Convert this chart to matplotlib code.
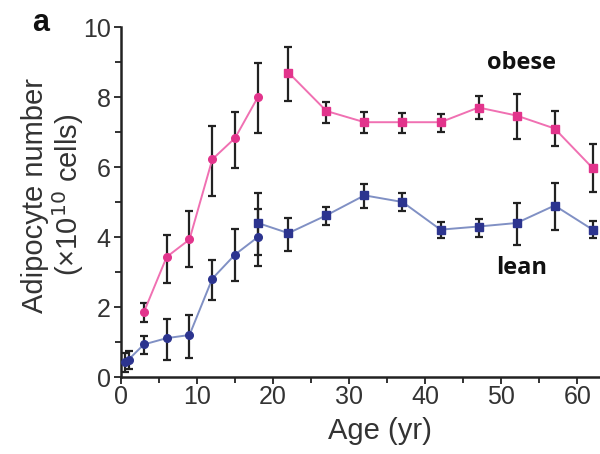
import matplotlib.pyplot as plt

# obese - childhood (circles) and adult (squares) data
obese_child_age = [3, 6, 9, 12, 15, 18]
obese_child_val = [1.85, 3.43, 3.93, 6.22, 6.83, 8.0]
obese_child_lo = [1.57, 2.68, 3.14, 5.18, 5.97, 6.98]
obese_child_hi = [2.12, 4.05, 4.75, 7.16, 7.56, 8.96]

obese_adult_age = [22, 27, 32, 37, 42, 47, 52, 57, 62]
obese_adult_val = [8.7, 7.6, 7.28, 7.28, 7.28, 7.7, 7.47, 7.1, 5.97]
obese_adult_lo = [7.9, 7.27, 6.97, 6.97, 7.0, 7.38, 6.8, 6.6, 5.3]
obese_adult_hi = [9.42, 7.86, 7.57, 7.55, 7.52, 8.02, 8.08, 7.6, 6.66]

# lean
lean_child_age = [0.5, 1, 3, 6, 9, 12, 15, 18]
lean_child_val = [0.42, 0.5, 0.93, 1.11, 1.2, 2.81, 3.5, 4.0]
lean_child_lo = [0.15, 0.22, 0.67, 0.5, 0.55, 2.2, 2.74, 3.17]
lean_child_hi = [0.7, 0.75, 1.18, 1.65, 1.77, 3.33, 4.22, 4.8]

lean_adult_age = [18, 22, 27, 32, 37, 42, 47, 52, 57, 62]
lean_adult_val = [4.4, 4.11, 4.62, 5.19, 5.0, 4.21, 4.3, 4.4, 4.9, 4.21]
lean_adult_lo = [3.5, 3.6, 4.35, 4.83, 4.73, 3.98, 4.0, 3.78, 4.2, 3.98]
lean_adult_hi = [5.26, 4.55, 4.87, 5.52, 5.27, 4.42, 4.52, 4.98, 5.55, 4.45]

pink_m, pink_l = '#e2348c', '#f070b2'
blue_m, blue_l = '#2c348f', '#8090c4'

plt.rcParams['font.family'] = ['Liberation Sans', 'DejaVu Sans']

fig = plt.figure(figsize=(6, 4.54), dpi=100)
ax = fig.add_axes([0.2017, 0.1696, 0.80, 0.7709])


def draw(age, val, lo, hi, lc, mc, marker):
    yerr = [[v - l for v, l in zip(val, lo)], [h - v for v, h in zip(val, hi)]]
    ax.errorbar(age, val, yerr=yerr, fmt='none', ecolor='#222222',
                elinewidth=1.6, capsize=3.2, capthick=1.6, zorder=2)
    ax.plot(age, val, '-', color=lc, lw=1.4, zorder=3)
    ax.plot(age, val, marker, color=mc, ms=5.5, ls='none', zorder=4)


draw(lean_child_age, lean_child_val, lean_child_lo, lean_child_hi, blue_l, blue_m, 'o')
draw(lean_adult_age, lean_adult_val, lean_adult_lo, lean_adult_hi, blue_l, blue_m, 's')
draw(obese_child_age, obese_child_val, obese_child_lo, obese_child_hi, pink_l, pink_m, 'o')
draw(obese_adult_age, obese_adult_val, obese_adult_lo, obese_adult_hi, pink_l, pink_m, 's')

ax.set_xlim(0, 63.1)
ax.set_ylim(0, 10)
ax.set_xticks(range(0, 61, 10))
ax.set_xticks(range(5, 61, 10), minor=True)
ax.set_yticks(range(0, 11, 2))
ax.set_yticks(range(1, 10, 2), minor=True)
for s in ['top', 'right']:
    ax.spines[s].set_visible(False)
for s in ['left', 'bottom']:
    ax.spines[s].set_linewidth(1.8)
    ax.spines[s].set_color('#222222')
ax.tick_params(which='both', direction='out', width=1.3, color='#222222',
               labelsize=18, labelcolor='#333333')
ax.tick_params(which='major', length=5)
ax.tick_params(axis='x', which='major', pad=1)
ax.tick_params(axis='y', which='major', pad=2.5)
ax.tick_params(which='minor', length=4)

ax.set_xlabel('Age (yr)', fontsize=21, color='#333333')
ax.xaxis.set_label_coords(0.54, -0.115)
ax.set_ylabel('Adipocyte number\n(×10$^{10}$ cells)', fontsize=21,
              color='#333333', linespacing=1.05)
ax.yaxis.set_label_coords(-0.072, 0.52)

ax.text(52.6, 8.98, 'obese', fontsize=17, fontweight='bold', family='Open Sans',
        ha='center', va='center', color='#111111')
ax.text(52.6, 3.12, 'lean', fontsize=17, fontweight='bold', family='Open Sans',
        ha='center', va='center', color='#111111')
fig.text(0.068, 0.95, 'a', fontsize=22, fontweight='bold', ha='center',
         va='center', color='#111111')

fig.savefig('out.png', dpi=100)
